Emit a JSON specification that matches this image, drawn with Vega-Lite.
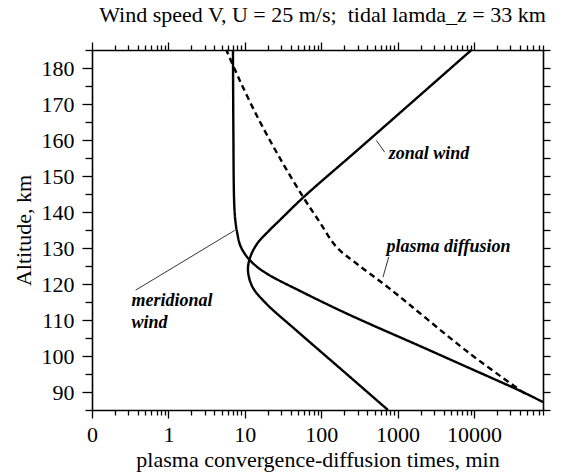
{
  "$schema": "https://vega.github.io/schema/vega-lite/v6.json",
  "width": 451,
  "height": 360,
  "autosize": {"type": "none"},
  "padding": {"left": 92, "top": 50, "right": 33, "bottom": 63},
  "background": "white",
  "title": {
    "text": "Wind speed V, U = 25 m/s; \u00a0tidal lamda_z = 33 km",
    "anchor": "middle",
    "font": "'Liberation Serif', 'Times New Roman', serif",
    "fontSize": 22,
    "fontWeight": "normal",
    "color": "black",
    "offset": 12,
    "dx": 5
  },
  "config": {
    "view": {"stroke": null},
    "axis": {
      "labelFont": "'Liberation Serif', 'Times New Roman', serif",
      "titleFont": "'Liberation Serif', 'Times New Roman', serif",
      "labelFontSize": 22,
      "titleFontSize": 22,
      "titleFontWeight": "normal",
      "labelColor": "black",
      "titleColor": "black",
      "domainColor": "black",
      "tickColor": "black",
      "domainWidth": 1.6,
      "tickWidth": 1.3,
      "grid": false,
      "labelFlush": false,
      "labelOverlap": false,
      "labelBound": false
    }
  },
  "data": {
    "values": [
      {"series": "meridional", "x": 7.0, "alt": 185},
      {"series": "meridional", "x": 7.05, "alt": 170},
      {"series": "meridional", "x": 7.1, "alt": 160},
      {"series": "meridional", "x": 7.15, "alt": 150},
      {"series": "meridional", "x": 7.25, "alt": 143},
      {"series": "meridional", "x": 7.45, "alt": 138.5},
      {"series": "meridional", "x": 7.9, "alt": 134.5},
      {"series": "meridional", "x": 8.8, "alt": 130.5},
      {"series": "meridional", "x": 11.0, "alt": 127.2},
      {"series": "meridional", "x": 14.8, "alt": 124.6},
      {"series": "meridional", "x": 21.2, "alt": 122.4},
      {"series": "meridional", "x": 57.3, "alt": 117.7},
      {"series": "meridional", "x": 174.6, "alt": 112.7},
      {"series": "meridional", "x": 431, "alt": 108.9},
      {"series": "meridional", "x": 1945, "alt": 102.8},
      {"series": "meridional", "x": 8790, "alt": 96.6},
      {"series": "meridional", "x": 43400, "alt": 90.0},
      {"series": "meridional", "x": 80000, "alt": 87.2},
      {"series": "zonal", "x": 9250, "alt": 185},
      {"series": "zonal", "x": 1644, "alt": 171.0},
      {"series": "zonal", "x": 295, "alt": 157.1},
      {"series": "zonal", "x": 58.6, "alt": 144.1},
      {"series": "zonal", "x": 28.6, "alt": 137.7},
      {"series": "zonal", "x": 20.5, "alt": 134.7},
      {"series": "zonal", "x": 14.5, "alt": 131.2},
      {"series": "zonal", "x": 11.8, "alt": 127.5},
      {"series": "zonal", "x": 11.0, "alt": 123.8},
      {"series": "zonal", "x": 12.6, "alt": 119.2},
      {"series": "zonal", "x": 19.0, "alt": 114.6},
      {"series": "zonal", "x": 47.3, "alt": 107.1},
      {"series": "zonal", "x": 185, "alt": 96.2},
      {"series": "zonal", "x": 748, "alt": 85},
      {"series": "plasma", "x": 5.74, "alt": 185},
      {"series": "plasma", "x": 8.57, "alt": 176.6},
      {"series": "plasma", "x": 15.4, "alt": 165.5},
      {"series": "plasma", "x": 29.8, "alt": 154.4},
      {"series": "plasma", "x": 57.8, "alt": 144.2},
      {"series": "plasma", "x": 95.5, "alt": 137.2},
      {"series": "plasma", "x": 158, "alt": 130.3},
      {"series": "plasma", "x": 289, "alt": 125.7},
      {"series": "plasma", "x": 788, "alt": 118.7},
      {"series": "plasma", "x": 8790, "alt": 100.7},
      {"series": "plasma", "x": 46100, "alt": 89.6}
    ]
  },
  "layer": [
    {
      "mark": {"type": "line", "color": "black", "strokeWidth": 2.4, "interpolate": "catmull-rom"},
      "encoding": {
        "x": {
          "field": "x", "type": "quantitative",
          "scale": {"type": "log", "domain": [0.1, 80000]},
          "axis": {
            "orient": "bottom",
            "values": [0.1,0.2,0.3,0.4,0.5,0.6,0.7,0.8,0.9,1,2,3,4,5,6,7,8,9,10,20,30,40,50,60,70,80,90,100,200,300,400,500,600,700,800,900,1000,2000,3000,4000,5000,6000,7000,8000,9000,10000,20000,30000,40000,50000,60000,70000,80000],
            "labelExpr": "datum.value == 0.1 ? '0' : (indexof([1,10,100,1000,10000], datum.value) >= 0 ? format(datum.value, 'd') : '')",
            "tickSize": {"condition": {"test": "indexof([0.1,1,10,100,1000,10000], datum.value) >= 0", "value": 8}, "value": 5},
            "labelPadding": 6,
            "title": "plasma convergence-diffusion times, min",
            "titlePadding": 4
          }
        },
        "y": {
          "field": "alt", "type": "quantitative",
          "scale": {"domain": [85, 185], "nice": false, "zero": false},
          "axis": {
            "orient": "left",
            "values": [85,90,95,100,105,110,115,120,125,130,135,140,145,150,155,160,165,170,175,180,185],
            "labelExpr": "datum.value % 10 == 0 ? datum.value : ''",
            "tickSize": {"condition": {"test": "datum.value % 10 == 0", "value": 10}, "value": 7},
            "labelPadding": 8,
            "title": "Altitude, km",
            "titlePadding": 6
          }
        },
        "detail": {"field": "series"},
        "strokeDash": {
          "field": "series", "type": "nominal",
          "scale": {"domain": ["meridional", "zonal", "plasma"], "range": [[1, 0], [1, 0], [6, 4]]},
          "legend": null
        },
        "order": {"field": "alt", "type": "quantitative"}
      }
    },
    {
      "mark": {"type": "point", "opacity": 0},
      "encoding": {
        "x": {
          "field": "x", "type": "quantitative",
          "scale": {"type": "log", "domain": [0.1, 80000]},
          "axis": {
            "orient": "top",
            "values": [0.1,0.2,0.3,0.4,0.5,0.6,0.7,0.8,0.9,1,2,3,4,5,6,7,8,9,10,20,30,40,50,60,70,80,90,100,200,300,400,500,600,700,800,900,1000,2000,3000,4000,5000,6000,7000,8000,9000,10000,20000,30000,40000,50000,60000,70000,80000],
            "labels": false,
            "tickSize": {"condition": {"test": "indexof([0.1,1,10,100,1000,10000], datum.value) >= 0", "value": 8}, "value": 5},
            "title": null
          }
        },
        "y": {
          "field": "alt", "type": "quantitative",
          "scale": {"domain": [85, 185], "nice": false, "zero": false},
          "axis": {
            "orient": "right",
            "values": [85,90,95,100,105,110,115,120,125,130,135,140,145,150,155,160,165,170,175,180,185],
            "labels": false,
            "tickSize": 7,
            "title": null
          }
        }
      }
    },
    {
      "data": {
        "values": [
          {"lx": 527, "ly": 159.9, "lx2": 678, "ly2": 156.6},
          {"lx": 764, "ly": 127.5, "lx2": 644, "ly2": 121.9},
          {"lx": 7.38, "ly": 134.9, "lx2": 0.373, "ly2": 118.3}
        ]
      },
      "mark": {"type": "rule", "color": "black", "strokeWidth": 0.8},
      "encoding": {
        "x": {"field": "lx", "type": "quantitative", "scale": {"type": "log", "domain": [0.1, 80000]}, "axis": null},
        "y": {"field": "ly", "type": "quantitative", "scale": {"domain": [85, 185], "nice": false, "zero": false}, "axis": null},
        "x2": {"field": "lx2"},
        "y2": {"field": "ly2"}
      }
    },
    {
      "data": {
        "values": [
          {"tx": 766, "ty": 156.2, "label": "zonal wind"},
          {"tx": 713, "ty": 130.3, "label": "plasma diffusion"},
          {"tx": 0.328, "ty": 115.2, "label": "meridional"},
          {"tx": 0.328, "ty": 109.1, "label": "wind"}
        ]
      },
      "mark": {"type": "text", "font": "'Liberation Serif', 'Times New Roman', serif", "fontSize": 18, "fontStyle": "italic", "fontWeight": "bold", "align": "left", "baseline": "middle", "color": "black"},
      "encoding": {
        "x": {"field": "tx", "type": "quantitative", "scale": {"type": "log", "domain": [0.1, 80000]}, "axis": null},
        "y": {"field": "ty", "type": "quantitative", "scale": {"domain": [85, 185], "nice": false, "zero": false}, "axis": null},
        "text": {"field": "label"}
      }
    }
  ],
  "resolve": {"axis": {"x": "independent", "y": "independent"}}
}
